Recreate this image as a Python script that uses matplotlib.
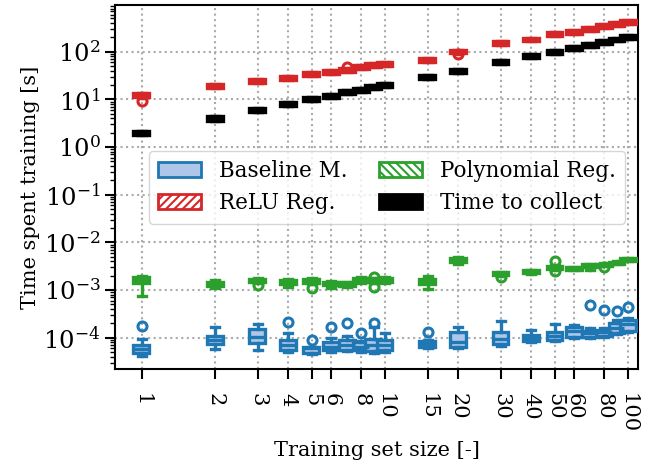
import numpy as np
import matplotlib
matplotlib.use("Agg")
import matplotlib.pyplot as plt
from matplotlib.patches import Patch

plt.rcParams['font.family'] = ['DejaVu Serif']
plt.rcParams['mathtext.fontset'] = 'dejavuserif'
plt.rcParams['hatch.linewidth'] = 1.5

sizes = [1, 2, 3, 4, 5, 6, 7, 8, 9, 10, 15, 20, 30, 40, 50, 60, 70, 80, 90, 100]
xtick_vals = [1, 2, 3, 4, 5, 6, 8, 10, 15, 20, 30, 40, 50, 60, 80, 100]

# Baseline M.
base_q1 = [4.7e-5, 7.3e-5, 7.8e-5, 5.5e-5, 4.8e-5, 5.5e-5, 5.6e-5, 5.5e-5, 5.3e-5, 5.5e-5,
           6.3e-5, 6.5e-5, 7.3e-5, 8.5e-5, 9.0e-5, 1.05e-4, 1.05e-4, 1.1e-4, 1.25e-4, 1.4e-4]
base_med = [5.8e-5, 9.0e-5, 1.05e-4, 7.2e-5, 6.0e-5, 6.5e-5, 7.0e-5, 6.5e-5, 7.0e-5, 7.0e-5,
            7.3e-5, 8.0e-5, 9.5e-5, 9.8e-5, 1.1e-4, 1.4e-4, 1.25e-4, 1.3e-4, 1.6e-4, 1.9e-4]
base_q3 = [7.0e-5, 1.08e-4, 1.5e-4, 8.8e-5, 6.3e-5, 8.0e-5, 9.0e-5, 8.0e-5, 9.5e-5, 9.0e-5,
           8.5e-5, 1.35e-4, 1.3e-4, 1.15e-4, 1.35e-4, 1.7e-4, 1.4e-4, 1.45e-4, 2.0e-4, 2.4e-4]
base_lo = [4.2e-5, 5.9e-5, 5.5e-5, 5.0e-5, 4.6e-5, 5.0e-5, 5.2e-5, 5.0e-5, 4.8e-5, 5.0e-5,
           6.0e-5, 6.0e-5, 6.8e-5, 8.0e-5, 8.5e-5, 1.0e-4, 1.0e-4, 1.05e-4, 1.2e-4, 1.35e-4]
base_hi = [9.5e-5, 1.65e-4, 1.9e-4, 1.28e-4, 6.5e-5, 1.0e-4, 1.1e-4, 8.5e-5, 1.7e-4, 1.26e-4,
           8.8e-5, 1.7e-4, 2.2e-4, 1.45e-4, 1.9e-4, 1.85e-4, 1.6e-4, 1.6e-4, 2.4e-4, 2.6e-4]
base_fl = [[1.8e-4], [], [], [2.1e-4], [8.9e-5], [1.7e-4], [2.0e-4], [1.26e-4], [2.0e-4], [],
           [1.3e-4], [], [], [], [], [], [4.8e-4], [3.8e-4], [3.7e-4], [4.4e-4]]

# ReLU Reg.
relu_q1 = [11.5, 17.6, 22.4, 25.5, 31, 33.6, 38, 43, 47, 51, 62, 92, 136, 164, 213, 234, 268, 309, 350, 379]
relu_med = [12.6, 19.4, 24.6, 28, 34, 37, 42, 47, 52, 56, 68, 101, 150, 180, 234, 257, 295, 340, 385, 417]
relu_q3 = [13.9, 21.3, 27, 30.8, 37.4, 40.7, 46, 52, 57, 62, 75, 111, 165, 198, 257, 283, 325, 374, 424, 459]
relu_lo = [10.6, 17.6, 22.4, 25.5, 31, 33.6, 38, 43, 47, 51, 62, 90, 136, 164, 213, 234, 268, 309, 350, 379]
relu_hi = [13.9, 21.3, 27, 30.8, 37.4, 40.7, 46, 52, 57, 62, 75, 111, 165, 198, 257, 283, 325, 374, 424, 459]
relu_fl = [[9.3], [], [], [], [], [], [48], [], [], [], [], [88], [], [], [], [], [], [], [], []]

# Polynomial Reg.
poly_q1 = [1.38e-3, 1.2e-3, 1.45e-3, 1.32e-3, 1.38e-3, 1.25e-3, 1.22e-3, 1.45e-3, 1.45e-3, 1.45e-3,
           1.35e-3, 3.8e-3, 2.05e-3, 2.25e-3, 2.75e-3, 2.7e-3, 3.0e-3, 3.2e-3, 3.5e-3, 4.1e-3]
poly_med = [1.6e-3, 1.32e-3, 1.58e-3, 1.48e-3, 1.52e-3, 1.36e-3, 1.33e-3, 1.62e-3, 1.6e-3, 1.62e-3,
            1.5e-3, 4.3e-3, 2.2e-3, 2.43e-3, 2.95e-3, 2.85e-3, 3.2e-3, 3.4e-3, 3.7e-3, 4.4e-3]
poly_q3 = [1.9e-3, 1.5e-3, 1.72e-3, 1.65e-3, 1.7e-3, 1.5e-3, 1.45e-3, 1.8e-3, 1.75e-3, 1.8e-3,
           1.68e-3, 4.8e-3, 2.4e-3, 2.6e-3, 3.25e-3, 3.05e-3, 3.45e-3, 3.6e-3, 3.9e-3, 4.7e-3]
poly_lo = [7.6e-4, 1.12e-3, 1.4e-3, 1.15e-3, 1.35e-3, 1.08e-3, 1.15e-3, 1.4e-3, 1.4e-3, 1.4e-3,
           1.05e-3, 3.5e-3, 2.0e-3, 2.2e-3, 2.7e-3, 2.6e-3, 2.6e-3, 3.15e-3, 3.45e-3, 4.0e-3]
poly_hi = [2.0e-3, 1.6e-3, 1.75e-3, 1.7e-3, 1.75e-3, 1.55e-3, 1.5e-3, 1.85e-3, 1.8e-3, 1.85e-3,
           2.0e-3, 5.0e-3, 2.45e-3, 2.65e-3, 3.3e-3, 3.1e-3, 3.5e-3, 3.65e-3, 4.0e-3, 4.8e-3]
poly_fl = [[], [], [1.3e-3], [], [1.1e-3], [], [], [], [1.9e-3, 1.15e-3], [],
           [], [], [1.85e-3], [], [4.0e-3, 2.55e-3], [], [], [3.0e-3], [], []]

# Time to collect
coll_q1 = [1.8, 3.6, 5.5, 7.3, 9.1, 10.9, 12.7, 14.5, 16.4, 18.2, 27.3, 36.4, 54.5, 72.7, 90.9, 109, 127, 145, 164, 182]
coll_med = [2, 4, 6, 8, 10, 12, 14, 16, 18, 20, 30, 40, 60, 80, 100, 120, 140, 160, 180, 200]
coll_q3 = [2.2, 4.4, 6.6, 8.8, 11, 13.2, 15.4, 17.6, 19.8, 22, 33, 44, 66, 88, 110, 132, 154, 176, 198, 220]

RED = '#d62728'
GREEN = '#2ca02c'
BLUE = '#1f77b4'
LBLUE = '#aec7e8'
TICK_FS = 17.5
XTICK_FS = 15
LABEL_FS = 15
LEG_FS = 15.5


def make_stats(q1, med, q3, lo, hi, fl):
    return [dict(q1=a, med=b, q3=c, whislo=d, whishi=e, fliers=f)
            for a, b, c, d, e, f in zip(q1, med, q3, lo, hi, fl)]


fig = plt.figure(figsize=(6.53, 4.66), dpi=100)
ax = fig.add_axes([0.176, 0.208, 0.801, 0.781])
ax.set_xscale('log')
ax.set_yscale('log')

widths = [0.15 * s for s in sizes]
lw = 2.4


def draw(stats, edge, face, hatch=None, z=2):
    ax.bxp(stats, positions=sizes, widths=widths, patch_artist=True, manage_ticks=False,
           boxprops=dict(facecolor=face, edgecolor=edge, linewidth=lw, hatch=hatch),
           whiskerprops=dict(color=edge, linewidth=lw),
           capprops=dict(color=edge, linewidth=lw),
           medianprops=dict(color=edge, linewidth=lw),
           flierprops=dict(marker='o', markerfacecolor='none', markeredgecolor=edge,
                           markersize=6.5, markeredgewidth=2.2),
           zorder=z)


draw(make_stats(base_q1, base_med, base_q3, base_lo, base_hi, base_fl), BLUE, LBLUE, z=3)
draw(make_stats(relu_q1, relu_med, relu_q3, relu_lo, relu_hi, relu_fl), RED, 'white', hatch='////', z=3)
draw(make_stats(poly_q1, poly_med, poly_q3, poly_lo, poly_hi, poly_fl), GREEN, 'white', hatch='\\\\\\\\', z=3)
draw(make_stats(coll_q1, coll_med, coll_q3, coll_q1, coll_q3, [[] for _ in sizes]), 'black', 'black', z=3)

ax.set_xlim(0.776, 110)
ax.set_ylim(2.2e-5, 950)
ax.set_xticks(xtick_vals)
ax.set_xticklabels([str(v) for v in xtick_vals], rotation=270)
ax.xaxis.set_minor_locator(matplotlib.ticker.NullLocator())
ax.tick_params(axis='both', which='major', labelsize=TICK_FS, length=7, width=1.5)
ax.tick_params(axis='x', which='major', labelsize=XTICK_FS, pad=10)
ax.tick_params(axis='y', which='minor', length=3.5, width=1)
ax.grid(True, which='major', linestyle=':', color='#aaaaaa', linewidth=1.5)
ax.set_axisbelow(True)
for sp in ax.spines.values():
    sp.set_linewidth(1.5)

ax.set_xlabel('Training set size [-]', fontsize=LABEL_FS, labelpad=6)
ax.set_ylabel('Time spent training [s]', fontsize=LABEL_FS, labelpad=2)

handles = [
    Patch(facecolor=LBLUE, edgecolor=BLUE, linewidth=2, label='Baseline M.'),
    Patch(facecolor='white', edgecolor=RED, linewidth=2, hatch='////', label='ReLU Reg.'),
    Patch(facecolor='white', edgecolor=GREEN, linewidth=2, hatch='\\\\\\\\', label='Polynomial Reg.'),
    Patch(facecolor='black', edgecolor='black', linewidth=2, label='Time to collect'),
]
ax.legend(handles=handles, ncol=2, loc='center', bbox_to_anchor=(0.52, 0.5),
          fontsize=LEG_FS, framealpha=0.8, handlelength=2.0, columnspacing=1.5,
          borderpad=0.45, labelspacing=0.45)

fig.savefig('out.png', dpi=100)
